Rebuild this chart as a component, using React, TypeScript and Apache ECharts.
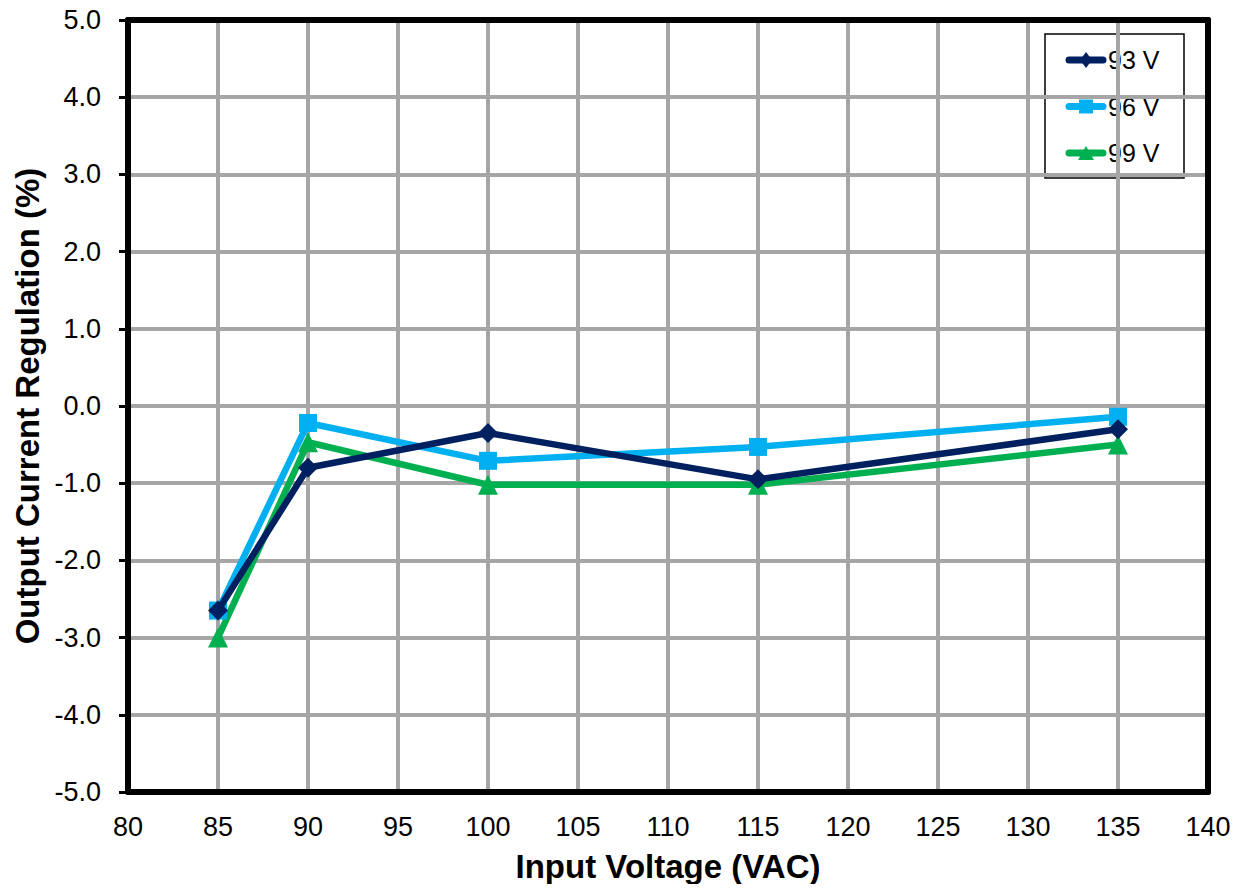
import React, { useEffect, useRef } from "react";
import * as echarts from "echarts";

const inputVoltage = [85, 90, 100, 115, 135];
const series93 = [-2.65, -0.8, -0.35, -0.95, -0.3];
const series96 = [-2.65, -0.22, -0.71, -0.53, -0.14];
const series99 = [-3.0, -0.47, -1.02, -1.02, -0.5];
const seriesNames = ["93 V", "96 V", "99 V"];
const seriesColors = ["#002060", "#00b0f0", "#00b050"];
const seriesSymbols = ["diamond", "rect", "triangle"];
const symbolSizes = [20, 18, 20];

const FONT = "Liberation Sans, Arial, sans-serif";
const GRID_COLOR = "#a6a6a6";

// Legend box layout (pixels)
const LEGEND_X = 1045;
const LEGEND_Y = 34;
const LEGEND_W = 139;
const LEGEND_H = 144;
const LEGEND_ROW0 = 60;
const LEGEND_ROW_STEP = 46.5;

function legendMarker(kind: string, cx: number, cy: number, color: string) {
  const s = 7;
  if (kind === "rect") {
    return { type: "rect", shape: { x: cx - s, y: cy - s, width: 2 * s, height: 2 * s }, style: { fill: color } };
  }
  if (kind === "diamond") {
    return {
      type: "polygon",
      shape: { points: [[cx, cy - 8], [cx + 6, cy], [cx, cy + 8], [cx - 6, cy]] },
      style: { fill: color },
    };
  }
  return {
    type: "polygon",
    shape: { points: [[cx, cy - 7], [cx + 8, cy + 7], [cx - 8, cy + 7]] },
    style: { fill: color },
  };
}

export default function App() {
  const ref = useRef<HTMLDivElement>(null);

  useEffect(() => {
    if (!ref.current) return;
    const chart = echarts.init(ref.current, null, { renderer: "svg" });
    const values = [series93, series96, series99];
    const frameLine = { show: true, onZero: false, lineStyle: { color: "#000", width: 6 } };

    const legendItems: any[] = [
      {
        type: "rect",
        shape: { x: LEGEND_X, y: LEGEND_Y, width: LEGEND_W, height: LEGEND_H },
        style: { fill: "#fff", stroke: "#000", lineWidth: 1.5 },
      },
    ];
    seriesNames.forEach((name, i) => {
      const cy = LEGEND_ROW0 + LEGEND_ROW_STEP * i;
      legendItems.push({
        type: "line",
        shape: { x1: 1069, y1: cy, x2: 1103, y2: cy },
        style: { stroke: seriesColors[i], lineWidth: 7, lineCap: "round" },
      });
      legendItems.push(legendMarker(seriesSymbols[i], 1086, cy, seriesColors[i]));
      legendItems.push({
        type: "text",
        x: 1108,
        y: cy,
        style: {
          text: name,
          fontFamily: FONT,
          fontSize: 25,
          fill: "#000",
          verticalAlign: "middle",
          align: "left",
        },
      });
    });

    chart.setOption({
      animation: false,
      backgroundColor: "#ffffff",
      grid: { left: 128, right: 37, top: 20, bottom: 100 },
      graphic: { elements: legendItems },
      xAxis: [
        {
          type: "value",
          min: 80,
          max: 140,
          interval: 5,
          name: "Input Voltage (VAC)",
          nameLocation: "middle",
          nameGap: 58,
          nameTextStyle: { fontFamily: FONT, fontSize: 33, fontWeight: "bold", color: "#000" },
          axisLine: frameLine,
          axisTick: { show: false },
          axisLabel: { fontFamily: FONT, fontSize: 27, color: "#000", margin: 21 },
          splitLine: { show: true, lineStyle: { color: GRID_COLOR, width: 4 } },
          z: 5,
        },
        {
          type: "value",
          position: "top",
          min: 80,
          max: 140,
          interval: 5,
          axisLine: frameLine,
          axisTick: { show: false },
          axisLabel: { show: false },
          splitLine: { show: false },
          z: 5,
        },
      ],
      yAxis: [
        {
          type: "value",
          min: -5,
          max: 5,
          interval: 1,
          name: "Output Current Regulation (%)",
          nameLocation: "middle",
          nameGap: 82,
          nameTextStyle: { fontFamily: FONT, fontSize: 33, fontWeight: "bold", color: "#000" },
          axisLine: frameLine,
          axisTick: { show: true, inside: false, length: 9, lineStyle: { color: "#000", width: 3 } },
          axisLabel: {
            fontFamily: FONT,
            fontSize: 27,
            color: "#000",
            margin: 27,
            formatter: (v: number) => v.toFixed(1),
          },
          splitLine: { show: true, lineStyle: { color: GRID_COLOR, width: 4 } },
          z: 5,
        },
        {
          type: "value",
          position: "right",
          min: -5,
          max: 5,
          interval: 1,
          axisLine: frameLine,
          axisTick: { show: false },
          axisLabel: { show: false },
          splitLine: { show: false },
          z: 5,
        },
      ],
      series: values.map((vals, i) => ({
        name: seriesNames[i],
        type: "line",
        data: inputVoltage.map((x, j) => [x, vals[j]]),
        symbol: seriesSymbols[i],
        symbolSize: symbolSizes[i],
        showAllSymbol: true,
        itemStyle: { color: seriesColors[i] },
        lineStyle: { color: seriesColors[i], width: 6.5 },
        z: 10 - i,
      })),
    });
    return () => chart.dispose();
  }, []);

  return <div ref={ref} style={{ width: 1245, height: 892, margin: -8 }} />;
}
